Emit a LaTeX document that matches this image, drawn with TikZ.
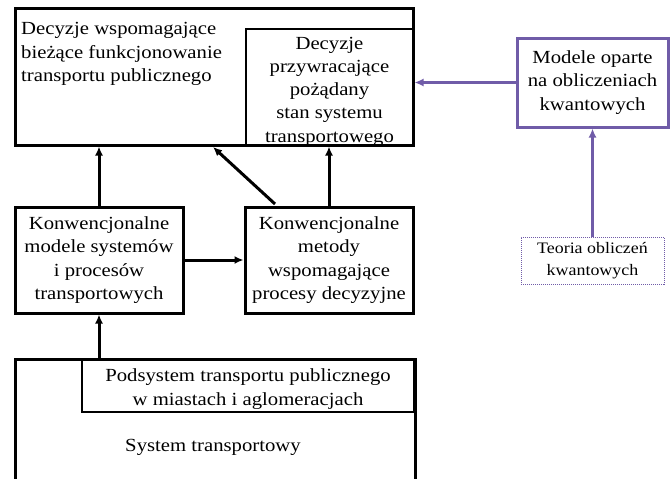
\documentclass[tikz,border=0pt]{standalone}
\usepackage{fontspec}
\setmainfont{Liberation Serif}[FakeStretch=1.12]
\usetikzlibrary{arrows.meta}
\definecolor{qpurple}{RGB}{112,92,168}
\tikzset{
  txt/.style={font=\fontsize{18.5}{23.3}\selectfont, inner sep=0pt, align=center},
  small/.style={font=\fontsize{16}{21.5}\selectfont, inner sep=0pt, align=center},
  thickbox/.style={draw=black, line width=3pt, inner sep=0pt},
  thinbox/.style={draw=black, line width=1.2pt, inner sep=0pt},
  arr/.style={line width=3pt, -{Latex[length=9pt,width=8pt]}},
  parr/.style={draw=qpurple, line width=3pt, -{Latex[length=9pt,width=8pt]}},
}
\begin{document}
\begin{tikzpicture}[x=1pt,y=-1pt]
\useasboundingbox (0,0) rectangle (672,479);
% top decision box
\node[thinbox, minimum width=167pt, minimum height=116pt] (inner) at (329.5,87) {};
\node[thickbox, minimum width=398pt, minimum height=137pt] (top) at (214,76.5) {};
\node[txt, align=left, anchor=west] (dec1) at (21,54) {Decyzje wspomagające\\bieżące funkcjonowanie\\transportu publicznego};
\node[txt] (dec2) at (329.5,91.5) {Decyzje\\przywracające\\pożądany\\stan systemu\\transportowego};
% middle boxes
\node[thickbox, txt, minimum width=168pt, minimum height=106pt] (conv1) at (99,260) {Konwencjonalne\\modele systemów\\i procesów\\transportowych};
\node[thickbox, txt, minimum width=168pt, minimum height=106pt] (conv2) at (329,260) {Konwencjonalne\\metody\\wspomagające\\procesy decyzyjne};
% quantum boxes
\node[draw=qpurple, line width=3pt, txt, minimum width=151pt, minimum height=89pt] (quant) at (592.5,82.5) {Modele oparte\\na obliczeniach\\kwantowych};
\node[draw=qpurple, line width=1pt, densely dotted, small, minimum width=143pt, minimum height=47pt] (theory) at (592.5,260.5) {Teoria obliczeń\\kwantowych};
% bottom system
\coordinate (sysbl) at (15,482);
\coordinate (sysbr) at (415,482);
\draw[line width=3pt] (sysbl) -- (15,359) -- (415,359) -- (sysbr);
\node[thinbox, minimum width=332pt, minimum height=53pt] (sub) at (248,385.5) {};
\node[txt] (subtxt) at (248,389) {Podsystem transportu publicznego\\w miastach i aglomeracjach};
\node[txt] (sys) at (213,447) {System transportowy};
% arrows
\draw[arr] (conv1.north) -- (conv1.north |- top.south);
\draw[arr] (conv2.north) -- (conv2.north |- top.south);
\coordinate (dstart) at (275,204);
\draw[arr] (dstart) -- (213,147);
\draw[arr] (conv1.east) -- (conv2.west);
\draw[arr] (sub.north -| conv1.south) -- (conv1.south);
\draw[parr] (quant.west) -- (top.east |- quant.west);
\draw[parr] (theory.north) -- (quant.south);
\end{tikzpicture}
\end{document}
